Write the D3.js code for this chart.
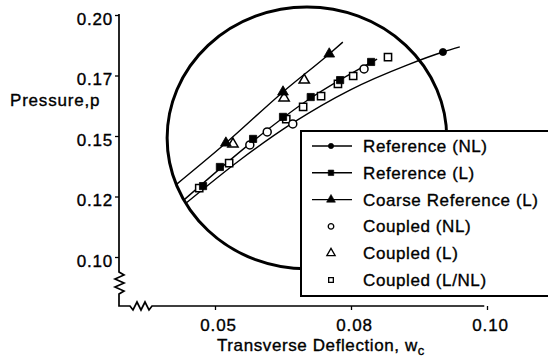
<!DOCTYPE html>
<html lang="en">
<head>
  <meta charset="UTF-8" />
  <title>Pressure vs Transverse Deflection</title>
  <script src="https://cdn.jsdelivr.net/npm/d3@7"></script>
  <style>
    body { margin: 0; background: #fff; }
    svg text { font-family: Arial, "Liberation Sans", sans-serif; fill: #000; stroke: #000; stroke-width: 0.35px; }
  </style>
</head>
<body>
  <svg id="chart" width="548" height="358"></svg>

  <script type="text/javascript">
    // tick values and their printed labels (the figure truncates 0.175 / 0.125)
    var yTicks = [0.100, 0.125, 0.150, 0.175, 0.200];
    var yTickLabels = ["0.10", "0.12", "0.15", "0.17", "0.20"];
    var xTicks = [0.050, 0.075, 0.100];
    var xTickLabels = ["0.05", "0.08", "0.10"];

    // [w_c, p] pairs
    var refNLCurve = [[0.0447, 0.1223], [0.0546, 0.1401], [0.0643, 0.1554], [0.0748, 0.1690],
                      [0.0853, 0.1793], [0.0919, 0.1847], [0.0950, 0.1868]];
    var refNLPoints = [[0.0919, 0.1847]];

    var refLCurve = [[0.0443, 0.1236], [0.0570, 0.1479], [0.0676, 0.1657], [0.0798, 0.1818]];
    var refLPoints = [[0.0478, 0.1293], [0.0509, 0.1372], [0.0570, 0.1488], [0.0625, 0.1579],
                      [0.0676, 0.1661], [0.0730, 0.1731], [0.0787, 0.1806]];

    var coarseCurve = [[0.0428, 0.1298], [0.0520, 0.1471], [0.0625, 0.1682], [0.0710, 0.1839], [0.0735, 0.1888]];
    var coarsePoints = [[0.0520, 0.1471], [0.0625, 0.1682], [0.0710, 0.1839]];

    var coupledNL = [[0.0564, 0.1463], [0.0596, 0.1517], [0.0643, 0.1550], [0.0774, 0.1777]];
    var coupledL = [[0.0533, 0.1467], [0.0627, 0.1657], [0.0664, 0.1731]];
    var coupledLNL = [[0.0471, 0.1285], [0.0526, 0.1388], [0.0631, 0.1570], [0.0662, 0.1620],
                      [0.0695, 0.1665], [0.0726, 0.1715], [0.0754, 0.1748], [0.0818, 0.1826]];

    // highlighted region (ellipse) centre and half-axes, in data units
    var ringCenter = [0.0669, 0.1492];
    var ringRadii = [0.0257, 0.0541];

    var legendLabels = ["Reference (NL)", "Reference (L)", "Coarse Reference (L)",
                        "Coupled (NL)", "Coupled (L)", "Coupled (L/NL)"];

    var svg = d3.select("#chart");
    var axisX0 = 119, axisY0 = 306;   // frame corner

    var x = d3.scaleLinear().domain([0.05, 0.10]).range([215, 487]);
    var y = d3.scaleLinear().domain([0.10, 0.20]).range([257, 15]);

    // the circled region
    svg.append("ellipse")
       .attr("cx", x(ringCenter[0]))
       .attr("cy", y(ringCenter[1]))
       .attr("rx", x(ringCenter[0] + ringRadii[0]) - x(ringCenter[0]))
       .attr("ry", y(ringCenter[1] - ringRadii[1]) - y(ringCenter[1]))
       .attr("fill", "none")
       .attr("stroke", "#000")
       .attr("stroke-width", 3);

    var line = d3.line()
                 .x(d => x(d[0]))
                 .y(d => y(d[1]))
                 .curve(d3.curveMonotoneX);

    [refNLCurve, refLCurve, coarseCurve].forEach(function(c) {
      svg.append("path")
         .datum(c)
         .attr("d", line)
         .attr("fill", "none")
         .attr("stroke", "#000")
         .attr("stroke-width", 1.4);
    });

    function symbolPath(type, size) {
      return d3.symbol().type(type).size(size)();
    }

    function drawMarkers(data, type, size, filled) {
      svg.append("g").selectAll("path")
         .data(data)
         .join("path")
         .attr("transform", d => "translate(" + x(d[0]) + "," + y(d[1]) + ")")
         .attr("d", symbolPath(type, size))
         .attr("fill", filled ? "#000" : "#fff")
         .attr("stroke", "#000")
         .attr("stroke-width", filled ? 0.8 : 1.5);
    }

    drawMarkers(coupledLNL, d3.symbolSquare, 52, false);
    drawMarkers(coupledNL, d3.symbolCircle, 50, false);
    drawMarkers(coupledL, d3.symbolTriangle, 46, false);
    drawMarkers(refLPoints, d3.symbolSquare, 52, true);
    drawMarkers(coarsePoints, d3.symbolTriangle, 50, true);
    drawMarkers(refNLPoints, d3.symbolCircle, 40, true);

    // legend box runs off the right edge
    var legend = svg.append("g");
    legend.append("rect")
          .attr("x", 301).attr("y", 131)
          .attr("width", 270).attr("height", 165)
          .attr("fill", "#fff")
          .attr("stroke", "#000")
          .attr("stroke-width", 2);

    var legendSymbols = [
      { type: d3.symbolCircle, size: 22, filled: true, line: true },
      { type: d3.symbolSquare, size: 30, filled: true, line: true },
      { type: d3.symbolTriangle, size: 34, filled: true, line: true },
      { type: d3.symbolCircle, size: 24, filled: false, line: false },
      { type: d3.symbolTriangle, size: 30, filled: false, line: false },
      { type: d3.symbolSquare, size: 22, filled: false, line: false }
    ];

    legendLabels.forEach(function(label, i) {
      var cy = 146 + i * 26.8;
      var s = legendSymbols[i];
      if (s.line) {
        legend.append("line")
              .attr("x1", 312).attr("x2", 352)
              .attr("y1", cy).attr("y2", cy)
              .attr("stroke", "#000").attr("stroke-width", 1.4);
      }
      legend.append("path")
            .attr("transform", "translate(331," + cy + ")")
            .attr("d", symbolPath(s.type, s.size))
            .attr("fill", s.filled ? "#000" : "#fff")
            .attr("stroke", "#000")
            .attr("stroke-width", s.filled ? 0.6 : 1.3);
      legend.append("text")
            .attr("x", 363).attr("y", cy + 6)
            .attr("font-size", 17)
            .attr("letter-spacing", 0.6)
            .text(label);
    });

    // axes: ticks and labels from d3, frame with break marks drawn by hand
    var yAxis = d3.axisLeft(y)
                  .tickValues(yTicks)
                  .tickFormat((d, i) => yTickLabels[i])
                  .tickSize(4)
                  .tickPadding(2);
    var gy = svg.append("g").attr("transform", "translate(" + axisX0 + ",0)").call(yAxis);
    gy.select(".domain").remove();
    gy.selectAll("text").attr("font-size", 17).attr("letter-spacing", 0.8).attr("dy", "0.55em");

    var xAxis = d3.axisBottom(x)
                  .tickValues(xTicks)
                  .tickFormat((d, i) => xTickLabels[i])
                  .tickSize(4)
                  .tickPadding(9);
    var gx = svg.append("g").attr("transform", "translate(0," + axisY0 + ")").call(xAxis);
    gx.select(".domain").remove();
    gx.selectAll("text").attr("font-size", 17).attr("letter-spacing", 0.8).attr("dx", 3);
    svg.selectAll(".tick line").attr("stroke", "#000").attr("stroke-width", 1.3);

    var yTop = y(0.20) - 1, yBreak = 272;
    var frame = d3.path();
    frame.moveTo(axisX0, yTop);
    frame.lineTo(axisX0, yBreak);
    frame.lineTo(axisX0 + 5, yBreak + 3);
    frame.lineTo(axisX0 - 4, yBreak + 7);
    frame.lineTo(axisX0 + 5, yBreak + 11);
    frame.lineTo(axisX0 - 4, yBreak + 15);
    frame.lineTo(axisX0 + 5, yBreak + 19);
    frame.lineTo(axisX0, yBreak + 22);
    frame.lineTo(axisX0, axisY0);
    frame.lineTo(axisX0 + 11, axisY0);
    frame.lineTo(axisX0 + 14, axisY0 + 4);
    frame.lineTo(axisX0 + 18, axisY0 - 4);
    frame.lineTo(axisX0 + 22, axisY0 + 4);
    frame.lineTo(axisX0 + 26, axisY0 - 4);
    frame.lineTo(axisX0 + 30, axisY0 + 4);
    frame.lineTo(axisX0 + 33, axisY0);
    frame.lineTo(x(0.0995), axisY0);
    svg.append("path")
       .attr("d", frame.toString())
       .attr("fill", "none")
       .attr("stroke", "#000")
       .attr("stroke-width", 1.7)
       .attr("stroke-linejoin", "miter");

    // axis titles
    svg.append("text")
       .attr("x", 10).attr("y", 106)
       .attr("font-size", 17)
       .attr("letter-spacing", 0.8)
       .text("Pressure,p");

    var xt = svg.append("text")
                .attr("x", 217).attr("y", 351)
                .attr("font-size", 17)
                .attr("letter-spacing", 0.6)
                .text("Transverse Deflection, w");
    xt.append("tspan")
      .attr("dy", 4)
      .attr("font-size", 13)
      .text("c");
  </script>
</body>
</html>
